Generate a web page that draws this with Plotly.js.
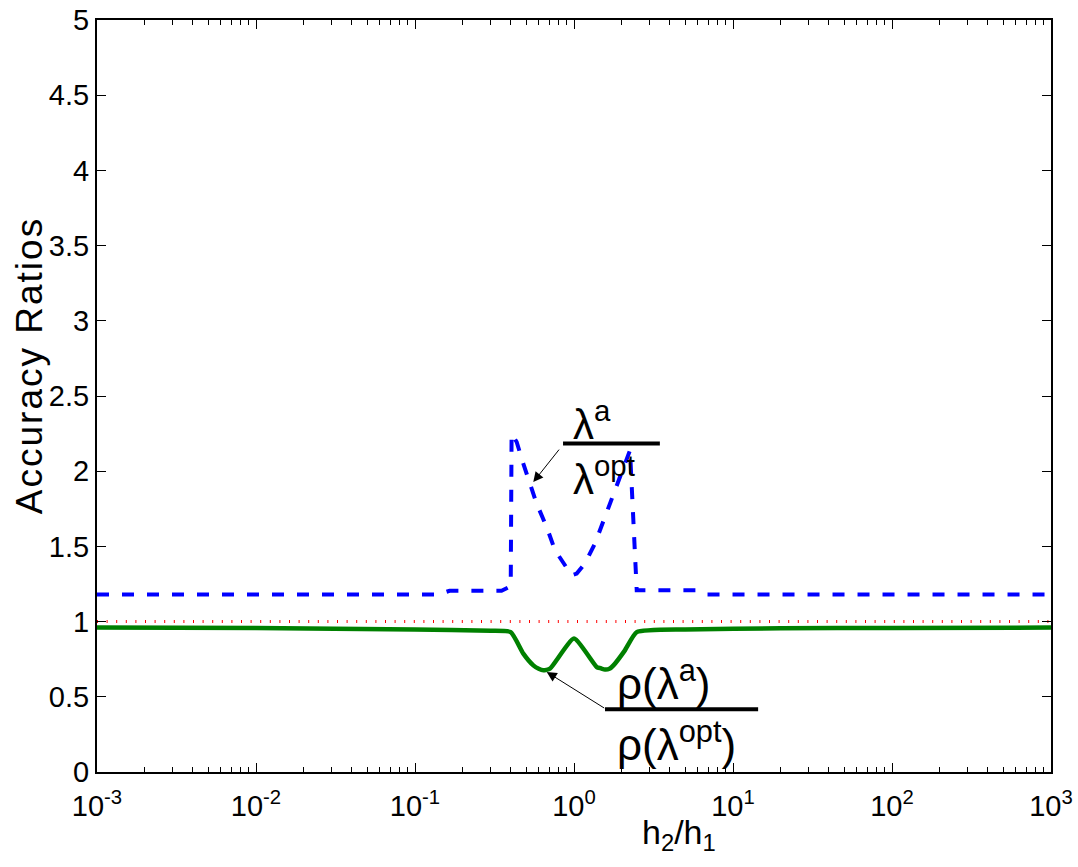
<!DOCTYPE html>
<html>
<head>
<meta charset="utf-8">
<script src="https://cdn.plot.ly/plotly-3.0.1.min.js"></script>
<style>html,body{margin:0;padding:0;background:#fff;}#chart{width:1078px;height:867px;}</style>
</head>
<body>
<div id="chart"></div>
<script>
// Data
const blueX = [0.001, 0.14, 0.165, 0.35, 0.40, 0.405, 0.436, 0.48, 0.582, 0.673, 0.76, 0.857, 0.967, 1.04, 1.17, 1.355, 1.567, 1.766, 2.04, 2.25, 2.48, 6.0, 6.9, 1000];
const blueY = [1.18, 1.18, 1.205, 1.205, 1.235, 2.25, 2.194, 2.05, 1.785, 1.629, 1.474, 1.386, 1.308, 1.319, 1.386, 1.519, 1.695, 1.828, 2.006, 2.139, 1.208, 1.208, 1.18, 1.18];

const greenX = [0.001, 0.01, 0.1, 0.3, 0.40, 0.48, 0.555, 0.60, 0.641, 0.706, 1.0, 1.39, 1.47, 1.567, 1.67, 1.77, 2.09, 2.48, 5, 20, 100, 1000];
const greenY = [0.96, 0.958, 0.947, 0.939, 0.93, 0.787, 0.709, 0.686, 0.676, 0.687, 0.887, 0.698, 0.69, 0.681, 0.686, 0.709, 0.809, 0.93, 0.948, 0.955, 0.958, 0.96];

const refX = [0.001, 1000];
const refY = [1, 1];

const xTickVals = [0.001, 0.01, 0.1, 1, 10, 100, 1000];
const xTickText = ['10<sup>-3</sup>', '10<sup>-2</sup>', '10<sup>-1</sup>', '10<sup>0</sup>', '10<sup>1</sup>', '10<sup>2</sup>', '10<sup>3</sup>'];
const yTickVals = [0, 0.5, 1, 1.5, 2, 2.5, 3, 3.5, 4, 4.5, 5];
const yTickText = ['0', '0.5', '1', '1.5', '2', '2.5', '3', '3.5', '4', '4.5', '5'];

const FONT = 'Liberation Sans, Arial, Helvetica, sans-serif';

const traces = [
  {x: refX, y: refY, mode: 'lines', line: {color: '#ff0000', width: 3, dash: '1px,8.6px'}, hoverinfo: 'skip'},
  {x: blueX, y: blueY, mode: 'lines', line: {color: '#0000ff', width: 4, dash: '12px,13px'}, hoverinfo: 'skip'},
  {x: greenX, y: greenY, mode: 'lines', line: {color: '#008000', width: 4.5, shape: 'spline', smoothing: 0.5}, hoverinfo: 'skip'}
];

const layout = {
  width: 1078, height: 867,
  margin: {l: 97, r: 27, t: 20, b: 95},
  paper_bgcolor: '#fff', plot_bgcolor: '#fff',
  showlegend: false,
  font: {family: FONT, size: 29, color: '#000'},
  xaxis: {
    type: 'log', range: [-3, 3],
    tickmode: 'array', tickvals: xTickVals, ticktext: xTickText,
    ticks: 'inside', ticklen: 9, tickwidth: 1, tickcolor: '#000',
    minor: {ticks: 'inside', ticklen: 5, tickwidth: 1, tickcolor: '#000', dtick: 'D1', showgrid: false},
    showline: true, linecolor: '#000', linewidth: 2, mirror: 'ticks',
    showgrid: false, zeroline: false, ticklabelstandoff: 7,
    tickfont: {family: FONT, size: 29, color: '#000'}
  },
  yaxis: {
    range: [0, 5],
    tickmode: 'array', tickvals: yTickVals, ticktext: yTickText,
    ticks: 'inside', ticklen: 9, tickwidth: 1, tickcolor: '#000',
    showline: true, linecolor: '#000', linewidth: 2, mirror: 'ticks',
    showgrid: false, zeroline: false,
    tickfont: {family: FONT, size: 29, color: '#000'}
  },
  shapes: [
    {type: 'line', xref: 'paper', yref: 'y', x0: 0.4885, x1: 0.590, y0: 2.185, y1: 2.185, line: {color: '#000', width: 4}},
    {type: 'line', xref: 'paper', yref: 'y', x0: 0.5325, x1: 0.693, y0: 0.417, y1: 0.417, line: {color: '#000', width: 4}}
  ],
  annotations: [
    {xref: 'paper', yref: 'paper', x: 0.61, y: -0.052, xanchor: 'center', yanchor: 'top', showarrow: false,
     text: 'h<sub>2</sub>/h<sub>1</sub>', font: {family: FONT, size: 34, color: '#000'}},
    {xref: 'paper', yref: 'paper', x: -0.07, y: 0.54, xanchor: 'center', yanchor: 'middle', showarrow: false, textangle: -90,
     text: '<span style="letter-spacing:2px">Accuracy Ratios</span>', font: {family: FONT, size: 37, color: '#000'}},
    {xref: 'paper', yref: 'paper', x: 0.497, y: 0.428, xanchor: 'left', yanchor: 'bottom', showarrow: false,
     text: 'λ<sup>a</sup>', font: {family: FONT, size: 42, color: '#000'}},
    {xref: 'paper', yref: 'paper', x: 0.497, y: 0.432, xanchor: 'left', yanchor: 'top', showarrow: false,
     text: 'λ<sup>opt</sup>', font: {family: FONT, size: 42, color: '#000'}},
    {xref: 'paper', yref: 'paper', x: 0.543, y: 0.083, xanchor: 'left', yanchor: 'bottom', showarrow: false,
     text: 'ρ(λ<sup>a</sup>)', font: {family: FONT, size: 44, color: '#000'}},
    {xref: 'paper', yref: 'paper', x: 0.543, y: 0.08, xanchor: 'left', yanchor: 'top', showarrow: false,
     text: 'ρ(λ<sup>opt</sup>)', font: {family: FONT, size: 44, color: '#000'}},
    {xref: 'paper', yref: 'paper', x: 0.4573, y: 0.3855, text: '', showarrow: true,
     ax: 27, ay: -34, arrowhead: 2, arrowsize: 2, arrowwidth: 1, arrowcolor: '#000', standoff: 0},
    {xref: 'paper', yref: 'paper', x: 0.4714, y: 0.133, text: '', showarrow: true,
     ax: 59, ay: 37, arrowhead: 2, arrowsize: 2, arrowwidth: 1, arrowcolor: '#000', standoff: 0}
  ]
};

Plotly.newPlot('chart', traces, layout, {staticPlot: true, displayModeBar: false});
</script>
</body>
</html>
